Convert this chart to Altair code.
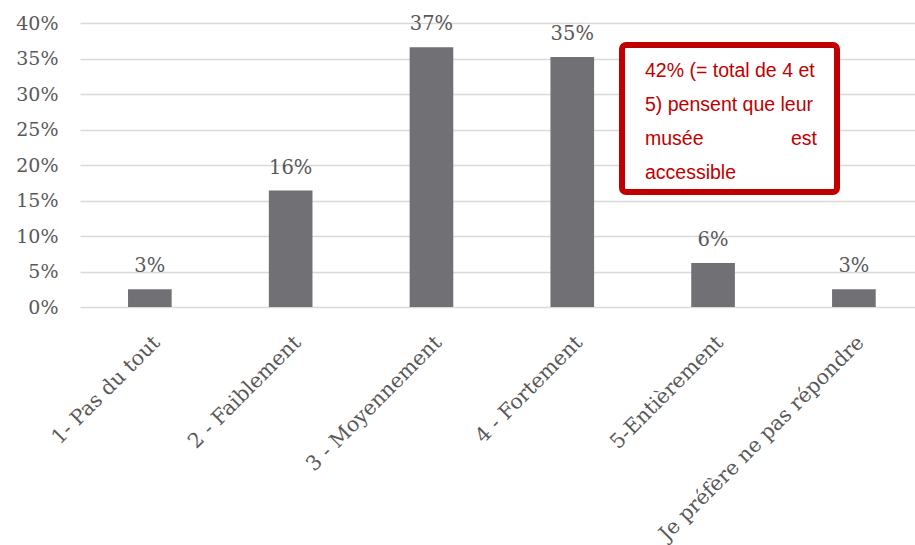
import altair as alt
import pandas as pd

categories = ["1- Pas du tout", "2 - Faiblement", "3 - Moyennement", "4 - Fortement",
              "5-Entièrement", "Je préfère ne pas répondre"]
values = [0.025, 0.164, 0.366, 0.352, 0.062, 0.025]
labels = ["3%", "16%", "37%", "35%", "6%", "3%"]
y_ticks = [0, 0.05, 0.1, 0.15, 0.2, 0.25, 0.3, 0.35, 0.4]

note_lines = ["42% (= total de 4 et", "5) pensent que leur", "musée", "est", "accessible"]

df = pd.DataFrame({"cat": categories, "val": values, "lab": labels})

FONT = "DejaVu Serif"
TXT = "#595959"
RED = "#c00000"

W, H = 835, 284

xscale = alt.Scale(paddingInner=0.69, paddingOuter=0.31, align=0.55)
yscale = alt.Scale(domain=[0, 0.4], nice=False)

xaxis = alt.Axis(labelAngle=-45, labelFont=FONT, labelFontSize=20.5, labelColor=TXT,
                 labelPadding=25, ticks=False, domain=False, labelLimit=400,
                 labelAlign="right", labelBaseline="top", labelOverlap=False)
yaxis = alt.Axis(format=".0%", values=y_ticks,
                 labelFont=FONT, labelFontSize=19, labelColor=TXT, labelPadding=22,
                 ticks=False, domain=False, grid=True, gridColor="#d9d9d9",
                 gridWidth=1.6, labelOverlap=False)

x = alt.X("cat:N", sort=categories, title=None, scale=xscale, axis=xaxis)
y = alt.Y("val:Q", title=None, scale=yscale, axis=yaxis)

base = alt.Chart(df)
bars = base.mark_bar(color="#717075").encode(x=x, y=y)
text = base.mark_text(font=FONT, fontSize=19.5, color=TXT, baseline="alphabetic", dy=-17).encode(
    x=x, y=y, text="lab:N")

box = alt.Chart(pd.DataFrame({"a": [0]})).mark_rect(
    fill="white", stroke=RED, strokeWidth=6, cornerRadius=4).encode(
    x=alt.value(542), x2=alt.value(757), y=alt.value(22), y2=alt.value(169))

# annotation lines: (x, y, align) for each text line
note_pos = [(565, 48, "left"), (565, 82, "left"), (565, 116, "left"),
            (737, 116, "right"), (565, 150, "left")]
notes = []
for t, (nx, ny, al) in zip(note_lines, note_pos):
    notes.append(
        alt.Chart(pd.DataFrame({"t": [t]})).mark_text(
            font="Liberation Sans", fontSize=19.5, color=RED, align=al, baseline="middle"
        ).encode(x=alt.value(nx), y=alt.value(ny), text="t:N")
    )

chart = alt.layer(bars, text, box, *notes).properties(
    width=W, height=H, autosize=alt.AutoSizeParams(type="none"),
    padding={"left": 80, "top": 23, "right": 0, "bottom": 238}
).configure_view(stroke=None)

chart.save("out.html", embed_options={"renderer": "svg", "actions": False})
